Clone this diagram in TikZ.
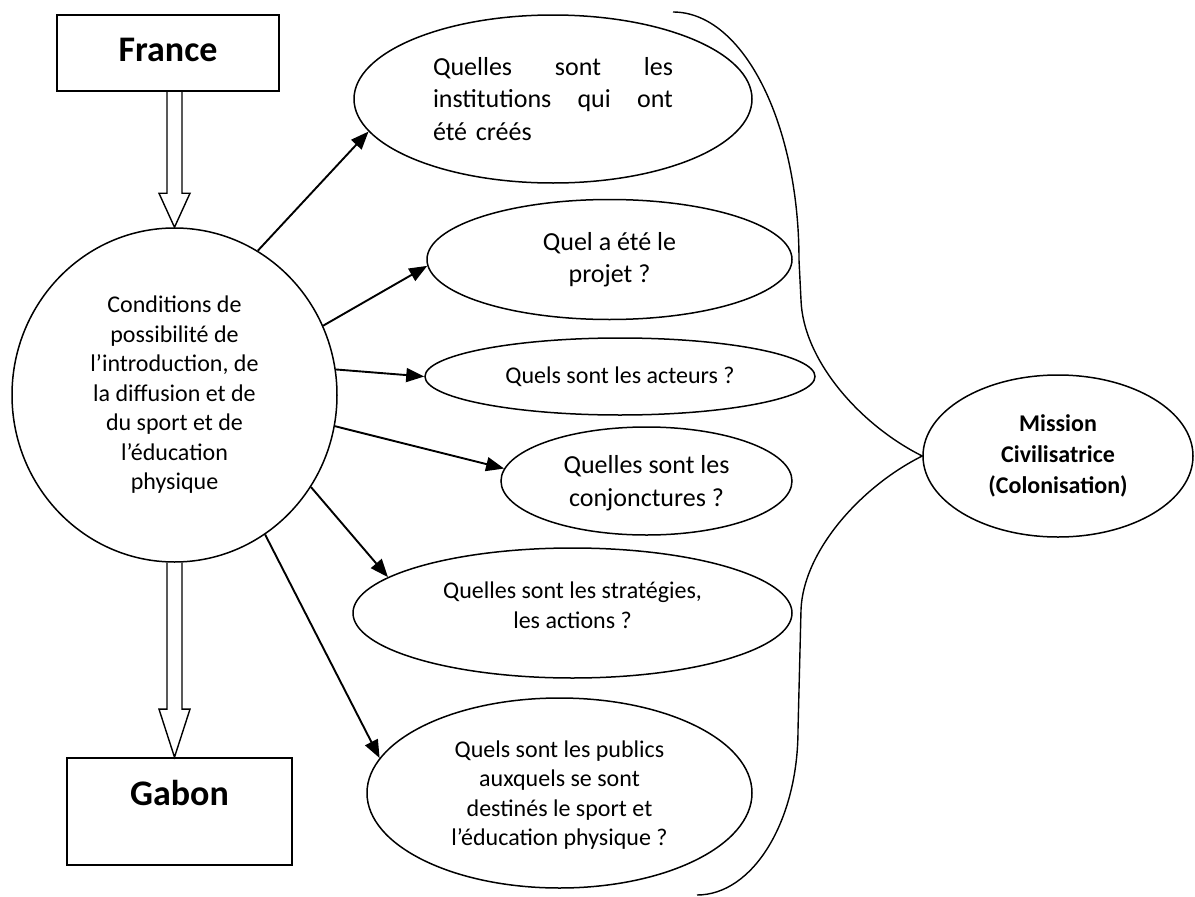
\documentclass[tikz,border=0pt]{standalone}
\usepackage{fontspec}
\setmainfont{Carlito}
\usetikzlibrary{shapes.geometric,arrows.meta,calc}

\begin{document}
\begin{tikzpicture}[x=1pt,y=-1pt,
  bulle/.style={draw,ellipse,line width=1.5pt,inner sep=0pt,align=center,font=\fontsize{24}{29.5}\selectfont},
  grand/.style={font=\fontsize{26}{32.5}\selectfont},
  cadre/.style={draw,rectangle,line width=1.7pt,inner sep=0pt,font=\bfseries\fontsize{36}{40}\selectfont},
  fleche/.style={line width=1.9pt,-{Triangle[length=18pt,width=14pt]}},
  creux/.style={line width=1.4pt,line join=miter}]
  \useasboundingbox (0,0) rectangle (1195,897);
  %\draw[very thin,lightgray] (0,0) grid[step=100] (1195,897);
  \node[cadre,minimum width=222pt,text height=46pt,text depth=30pt] (france) at (168,53) {France};
  \node[cadre,minimum width=225pt,text height=47pt,text depth=60pt] (gabon) at (179.5,811.5) {Gabon};
  \node[bulle,minimum width=325pt,minimum height=334pt] (circ) at (174.5,395) {Conditions de\\possibilité de\\l’introduction, de\\la diffusion et de\\du sport et de\\l’éducation\\physique};
  % les questions
  \node[bulle,grand,minimum width=398pt,minimum height=168pt,text width=240pt,align=left] (q1) at (553,99)
    {\makebox[240pt][s]{Quelles\hfill sont\hfill les}\\\makebox[240pt][s]{institutions\hfill qui\hfill ont}\\été créés};
  \node[bulle,grand,minimum width=365pt,minimum height=120pt] (q2) at (609.5,259.5) {Quel a été le\\projet ?};
  \node[bulle,minimum width=390pt,minimum height=77pt] (q3) at (620,376.5) {Quels sont les acteurs ?};
  \node[bulle,grand,minimum width=291pt,minimum height=108pt,text depth=0pt] (q4) at (646.5,481) {Quelles sont les\\conjonctures ?};
  \node[bulle,minimum width=439pt,minimum height=130pt,text depth=16pt] (q5) at (572.5,613) {Quelles sont les stratégies,\\les actions ?};
  \node[bulle,minimum width=385pt,minimum height=190pt,text depth=0pt] (q6) at (559.5,793) {Quels sont les publics\\auxquels se sont\\destinés le sport et\\l’éducation physique ?};
  \node[bulle,minimum width=270pt,minimum height=162pt,font=\bfseries\fontsize{24}{31}\selectfont] (miss) at (1058,456) {Mission\\Civilisatrice\\(Colonisation)};
  % fleches creuses
  \coordinate (fs) at (france.south -| circ.north);
  \coordinate (gn) at (gabon.north -| circ.south);
  \draw[creux] ($(fs)+(-7.5,0)$) -- ($(circ.north)+(-7.5,-34)$) -- ($(circ.north)+(-15.5,-34)$) -- (circ.north)
    -- ($(circ.north)+(15.5,-34)$) -- ($(circ.north)+(7.5,-34)$) -- ($(fs)+(7.5,0)$);
  \draw[creux] ($(circ.south)+(-7.5,0)$) -- ($(gn)+(-7.5,-48)$) -- ($(gn)+(-15.5,-48)$) -- (gn)
    -- ($(gn)+(15.5,-48)$) -- ($(gn)+(7.5,-48)$) -- ($(circ.south)+(7.5,0)$);
  % fleches vers les questions
  \draw[fleche] (circ.60) -- (q1.190);
  \draw[fleche] (circ.25) -- (q2.182);
  \draw[fleche] (circ.9) -- (q3.west);
  \draw[fleche] (circ.-11) -- (q4.175);
  \draw[fleche] (circ.-34) -- (q5.169);
  \draw[fleche] (circ.-57) -- (q6.169);
  % accolade
  \coordinate (haut) at (673,12);
  \coordinate (bas) at (697,895);
  \draw[line width=1.4pt] (haut) .. controls (743,12) and (799,123) .. (799,260) -- (801,300)
    .. controls (803,360) and (860,425) .. (miss.west)
    .. controls (860,487) and (803,552) .. (801,610) -- (798,730)
    .. controls (798,821) and (753,895) .. (bas);
\end{tikzpicture}
\end{document}
